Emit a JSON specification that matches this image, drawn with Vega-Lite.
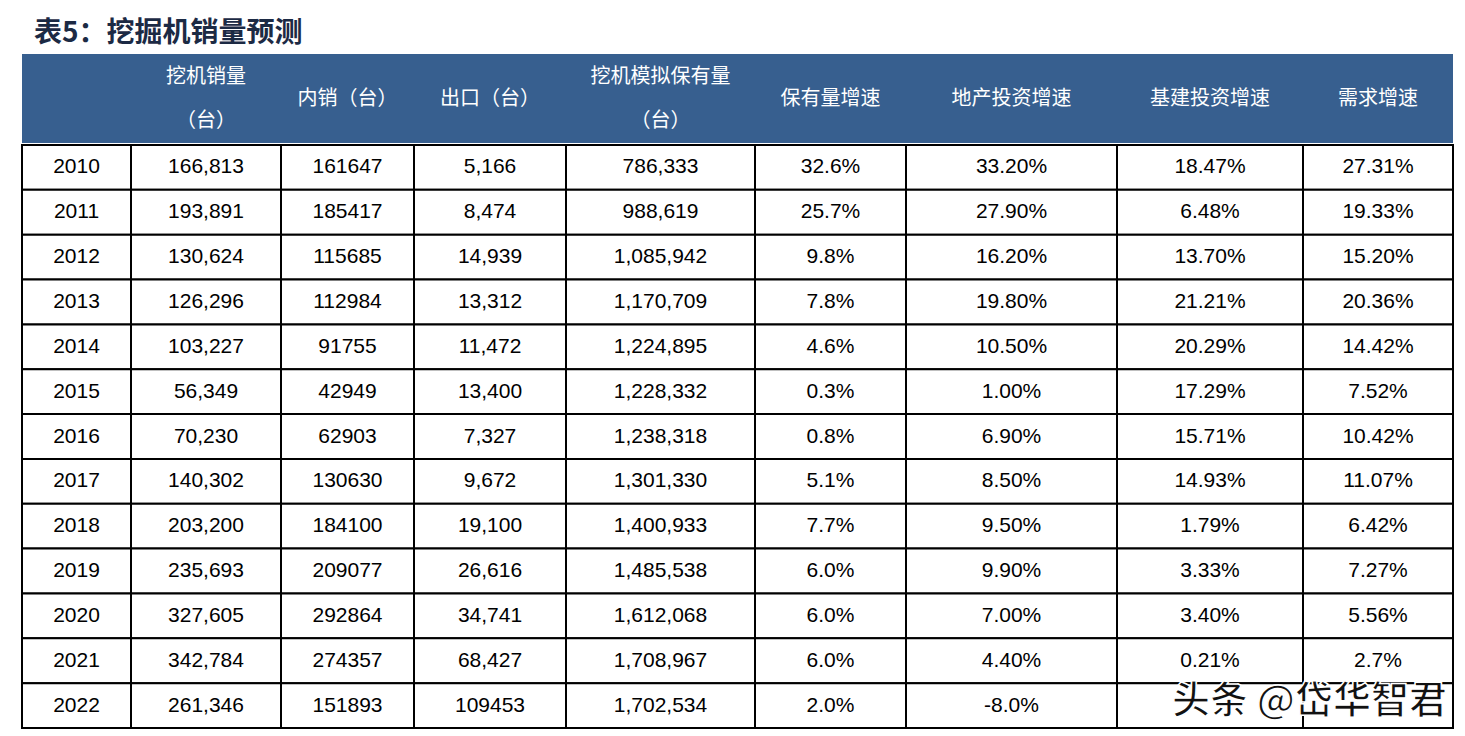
{
  "$schema": "https://vega.github.io/schema/vega-lite/v6.json",
  "padding": {"left": 20, "top": 20, "right": 10, "bottom": 6},
  "title": {"text": "表5：挖掘机销量预测", "anchor": "start", "fontSize": 28, "font": "Noto Sans CJK SC", "fontWeight": "bold", "color": "#1C2A44", "dx": 14, "offset": 6},
  "datasets": {
    "rows": [
      {"year": "2010", "sales": "166,813", "domestic": "161647", "export": "5,166", "stock": "786,333", "stockGrowth": "32.6%", "realEstate": "33.20%", "infra": "18.47%", "demand": "27.31%"},
      {"year": "2011", "sales": "193,891", "domestic": "185417", "export": "8,474", "stock": "988,619", "stockGrowth": "25.7%", "realEstate": "27.90%", "infra": "6.48%", "demand": "19.33%"},
      {"year": "2012", "sales": "130,624", "domestic": "115685", "export": "14,939", "stock": "1,085,942", "stockGrowth": "9.8%", "realEstate": "16.20%", "infra": "13.70%", "demand": "15.20%"},
      {"year": "2013", "sales": "126,296", "domestic": "112984", "export": "13,312", "stock": "1,170,709", "stockGrowth": "7.8%", "realEstate": "19.80%", "infra": "21.21%", "demand": "20.36%"},
      {"year": "2014", "sales": "103,227", "domestic": "91755", "export": "11,472", "stock": "1,224,895", "stockGrowth": "4.6%", "realEstate": "10.50%", "infra": "20.29%", "demand": "14.42%"},
      {"year": "2015", "sales": "56,349", "domestic": "42949", "export": "13,400", "stock": "1,228,332", "stockGrowth": "0.3%", "realEstate": "1.00%", "infra": "17.29%", "demand": "7.52%"},
      {"year": "2016", "sales": "70,230", "domestic": "62903", "export": "7,327", "stock": "1,238,318", "stockGrowth": "0.8%", "realEstate": "6.90%", "infra": "15.71%", "demand": "10.42%"},
      {"year": "2017", "sales": "140,302", "domestic": "130630", "export": "9,672", "stock": "1,301,330", "stockGrowth": "5.1%", "realEstate": "8.50%", "infra": "14.93%", "demand": "11.07%"},
      {"year": "2018", "sales": "203,200", "domestic": "184100", "export": "19,100", "stock": "1,400,933", "stockGrowth": "7.7%", "realEstate": "9.50%", "infra": "1.79%", "demand": "6.42%"},
      {"year": "2019", "sales": "235,693", "domestic": "209077", "export": "26,616", "stock": "1,485,538", "stockGrowth": "6.0%", "realEstate": "9.90%", "infra": "3.33%", "demand": "7.27%"},
      {"year": "2020", "sales": "327,605", "domestic": "292864", "export": "34,741", "stock": "1,612,068", "stockGrowth": "6.0%", "realEstate": "7.00%", "infra": "3.40%", "demand": "5.56%"},
      {"year": "2021", "sales": "342,784", "domestic": "274357", "export": "68,427", "stock": "1,708,967", "stockGrowth": "6.0%", "realEstate": "4.40%", "infra": "0.21%", "demand": "2.7%"},
      {"year": "2022", "sales": "261,346", "domestic": "151893", "export": "109453", "stock": "1,702,534", "stockGrowth": "2.0%", "realEstate": "-8.0%", "infra": "", "demand": ""}
    ],
    "headers": [
      {"col": "year", "label": ""},
      {"col": "sales", "label": "挖机销量\n（台）"},
      {"col": "domestic", "label": "内销（台）"},
      {"col": "export", "label": "出口（台）"},
      {"col": "stock", "label": "挖机模拟保有量\n（台）"},
      {"col": "stockGrowth", "label": "保有量增速"},
      {"col": "realEstate", "label": "地产投资增速"},
      {"col": "infra", "label": "基建投资增速"},
      {"col": "demand", "label": "需求增速"}
    ],
    "mark": [
      {"year": "2022", "wm": "头条 @岱华智君"}
    ]
  },
  "config": {
    "view": {"stroke": "black", "strokeWidth": 2},
    "concat": {"spacing": 0},
    "rect": {"fill": "white", "stroke": "black", "strokeWidth": 2},
    "text": {"fontSize": 21, "font": "Liberation Sans", "color": "black"}
  },
  "spacing": 0,
  "vconcat": [
    {
      "data": {"name": "headers"},
      "spacing": 0,
      "hconcat": [
        {"width": 109, "height": 89, "view": {"fill": "#375F8F"}, "transform": [{"filter": "datum.col === 'year'"}], "mark": {"type": "text", "color": "white", "fontSize": 20, "font": "Noto Sans CJK SC", "lineBreak": "\n", "lineHeight": 44}, "encoding": {"text": {"field": "label", "type": "nominal"}}},
        {"width": 150, "height": 89, "view": {"fill": "#375F8F"}, "transform": [{"filter": "datum.col === 'sales'"}], "mark": {"type": "text", "color": "white", "fontSize": 20, "font": "Noto Sans CJK SC", "lineBreak": "\n", "lineHeight": 44, "dy": -22}, "encoding": {"text": {"field": "label", "type": "nominal"}}},
        {"width": 133, "height": 89, "view": {"fill": "#375F8F"}, "transform": [{"filter": "datum.col === 'domestic'"}], "mark": {"type": "text", "color": "white", "fontSize": 20, "font": "Noto Sans CJK SC", "lineBreak": "\n", "lineHeight": 44}, "encoding": {"text": {"field": "label", "type": "nominal"}}},
        {"width": 152, "height": 89, "view": {"fill": "#375F8F"}, "transform": [{"filter": "datum.col === 'export'"}], "mark": {"type": "text", "color": "white", "fontSize": 20, "font": "Noto Sans CJK SC", "lineBreak": "\n", "lineHeight": 44}, "encoding": {"text": {"field": "label", "type": "nominal"}}},
        {"width": 189, "height": 89, "view": {"fill": "#375F8F"}, "transform": [{"filter": "datum.col === 'stock'"}], "mark": {"type": "text", "color": "white", "fontSize": 20, "font": "Noto Sans CJK SC", "lineBreak": "\n", "lineHeight": 44, "dy": -22}, "encoding": {"text": {"field": "label", "type": "nominal"}}},
        {"width": 151, "height": 89, "view": {"fill": "#375F8F"}, "transform": [{"filter": "datum.col === 'stockGrowth'"}], "mark": {"type": "text", "color": "white", "fontSize": 20, "font": "Noto Sans CJK SC", "lineBreak": "\n", "lineHeight": 44}, "encoding": {"text": {"field": "label", "type": "nominal"}}},
        {"width": 211, "height": 89, "view": {"fill": "#375F8F"}, "transform": [{"filter": "datum.col === 'realEstate'"}], "mark": {"type": "text", "color": "white", "fontSize": 20, "font": "Noto Sans CJK SC", "lineBreak": "\n", "lineHeight": 44}, "encoding": {"text": {"field": "label", "type": "nominal"}}},
        {"width": 186, "height": 89, "view": {"fill": "#375F8F"}, "transform": [{"filter": "datum.col === 'infra'"}], "mark": {"type": "text", "color": "white", "fontSize": 20, "font": "Noto Sans CJK SC", "lineBreak": "\n", "lineHeight": 44}, "encoding": {"text": {"field": "label", "type": "nominal"}}},
        {"width": 150, "height": 89, "view": {"fill": "#375F8F"}, "transform": [{"filter": "datum.col === 'demand'"}], "mark": {"type": "text", "color": "white", "fontSize": 20, "font": "Noto Sans CJK SC", "lineBreak": "\n", "lineHeight": 44}, "encoding": {"text": {"field": "label", "type": "nominal"}}}
      ]
    },
    {
      "data": {"name": "rows"},
      "spacing": 0,
      "bounds": "flush",
      "hconcat": [
        {"width": 109, "height": 583, "encoding": {"y": {"field": "year", "type": "ordinal", "scale": {"paddingInner": 0, "paddingOuter": 0}, "axis": null}},
          "layer": [{"mark": "rect"}, {"mark": "text", "encoding": {"text": {"field": "year", "type": "nominal"}}}]},
        {"width": 150, "height": 583, "encoding": {"y": {"field": "year", "type": "ordinal", "scale": {"paddingInner": 0, "paddingOuter": 0}, "axis": null}},
          "layer": [{"mark": "rect"}, {"mark": "text", "encoding": {"text": {"field": "sales", "type": "nominal"}}}]},
        {"width": 133, "height": 583, "encoding": {"y": {"field": "year", "type": "ordinal", "scale": {"paddingInner": 0, "paddingOuter": 0}, "axis": null}},
          "layer": [{"mark": "rect"}, {"mark": "text", "encoding": {"text": {"field": "domestic", "type": "nominal"}}}]},
        {"width": 152, "height": 583, "encoding": {"y": {"field": "year", "type": "ordinal", "scale": {"paddingInner": 0, "paddingOuter": 0}, "axis": null}},
          "layer": [{"mark": "rect"}, {"mark": "text", "encoding": {"text": {"field": "export", "type": "nominal"}}}]},
        {"width": 189, "height": 583, "encoding": {"y": {"field": "year", "type": "ordinal", "scale": {"paddingInner": 0, "paddingOuter": 0}, "axis": null}},
          "layer": [{"mark": "rect"}, {"mark": "text", "encoding": {"text": {"field": "stock", "type": "nominal"}}}]},
        {"width": 151, "height": 583, "encoding": {"y": {"field": "year", "type": "ordinal", "scale": {"paddingInner": 0, "paddingOuter": 0}, "axis": null}},
          "layer": [{"mark": "rect"}, {"mark": "text", "encoding": {"text": {"field": "stockGrowth", "type": "nominal"}}}]},
        {"width": 211, "height": 583, "encoding": {"y": {"field": "year", "type": "ordinal", "scale": {"paddingInner": 0, "paddingOuter": 0}, "axis": null}},
          "layer": [{"mark": "rect"}, {"mark": "text", "encoding": {"text": {"field": "realEstate", "type": "nominal"}}}]},
        {"width": 186, "height": 583, "encoding": {"y": {"field": "year", "type": "ordinal", "scale": {"paddingInner": 0, "paddingOuter": 0}, "axis": null}},
          "layer": [{"mark": "rect"}, {"mark": "text", "encoding": {"text": {"field": "infra", "type": "nominal"}}}]},
        {
          "width": 150, "height": 583,
          "encoding": {"y": {"field": "year", "type": "ordinal", "scale": {"paddingInner": 0, "paddingOuter": 0}, "axis": null}},
          "layer": [
            {"mark": "rect"},
            {"mark": "text", "encoding": {"text": {"field": "demand", "type": "nominal"}}},
            {"data": {"name": "mark"}, "mark": {"type": "text", "fontSize": 38, "font": "Noto Sans CJK SC", "fontWeight": "bold", "color": "#111111", "stroke": "white", "strokeWidth": 1.5, "align": "right", "dx": 69, "dy": -4}, "encoding": {"text": {"field": "wm", "type": "nominal"}}}
          ]
        }
      ]
    }
  ]
}
